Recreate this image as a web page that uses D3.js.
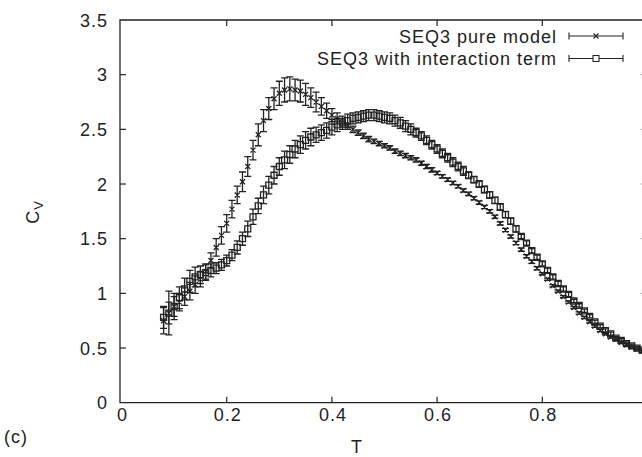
<!DOCTYPE html>
<html><head><meta charset="utf-8">
<script src="https://d3js.org/d3.v7.min.js"></script>
<style>
html,body{margin:0;padding:0;background:#fff;}
svg{display:block;font-family:"Liberation Sans",Arial,Helvetica,sans-serif;}
</style></head>
<body>
<script>
// ---- data ----
const T = [0.08,0.09,0.10,0.11,0.12,0.13,0.14,0.15,0.16,0.17,0.18,0.19,0.20,0.21,0.22,0.23,0.24,0.25,0.26,0.27,0.28,0.29,0.30,0.31,0.32,0.33,0.34,0.35,0.36,0.37,0.38,0.39,0.40,0.41,0.42,0.43,0.44,0.45,0.46,0.47,0.48,0.49,0.50,0.51,0.52,0.53,0.54,0.55,0.56,0.57,0.58,0.59,0.60,0.61,0.62,0.63,0.64,0.65,0.66,0.67,0.68,0.69,0.70,0.71,0.72,0.73,0.74,0.75,0.76,0.77,0.78,0.79,0.80,0.81,0.82,0.83,0.84,0.85,0.86,0.87,0.88,0.89,0.90,0.91,0.92,0.93,0.94,0.95,0.96,0.97,0.98,0.99,1.00];

const pureCv = [0.75,0.82,0.88,0.92,0.97,1.02,1.08,1.13,1.20,1.30,1.42,1.53,1.64,1.77,1.90,2.02,2.16,2.31,2.45,2.58,2.69,2.78,2.83,2.86,2.87,2.86,2.85,2.82,2.79,2.75,2.71,2.67,2.63,2.60,2.56,2.53,2.50,2.47,2.44,2.41,2.39,2.37,2.35,2.33,2.30,2.28,2.26,2.24,2.22,2.19,2.16,2.13,2.10,2.07,2.04,2.01,1.98,1.94,1.91,1.87,1.83,1.79,1.75,1.70,1.64,1.58,1.52,1.46,1.40,1.34,1.29,1.23,1.18,1.13,1.07,1.02,0.97,0.92,0.87,0.82,0.78,0.74,0.70,0.66,0.63,0.60,0.58,0.55,0.53,0.51,0.49,0.47,0.46];
const pureErr = [0.12,0.10,0.09,0.08,0.08,0.08,0.08,0.07,0.07,0.07,0.08,0.08,0.08,0.08,0.08,0.09,0.09,0.09,0.10,0.10,0.10,0.10,0.11,0.11,0.11,0.10,0.10,0.10,0.09,0.09,0.08,0.07,0.06,0.05,0.04,0.03,0.03,0.025,0.025,0.025,0.02,0.02,0.02,0.02,0.02,0.02,0.02,0.02,0.02,0.02,0.02,0.02,0.015,0.015,0.015,0.015,0.015,0.015,0.015,0.015,0.015,0.015,0.015,0.015,0.015,0.015,0.015,0.015,0.015,0.015,0.015,0.015,0.01,0.01,0.01,0.01,0.01,0.01,0.01,0.01,0.01,0.01,0.01,0.01,0.01,0.01,0.01,0.01,0.01,0.01,0.01,0.01,0.01];

const interCv = [0.78,0.82,0.88,0.96,1.04,1.11,1.15,1.17,1.19,1.21,1.23,1.26,1.30,1.35,1.42,1.50,1.59,1.70,1.80,1.90,1.99,2.08,2.16,2.22,2.27,2.32,2.36,2.40,2.43,2.45,2.47,2.49,2.52,2.54,2.56,2.58,2.60,2.61,2.62,2.63,2.63,2.62,2.61,2.60,2.58,2.56,2.53,2.50,2.47,2.44,2.40,2.36,2.32,2.28,2.24,2.20,2.16,2.12,2.08,2.04,2.00,1.95,1.90,1.85,1.79,1.72,1.66,1.59,1.52,1.46,1.39,1.33,1.27,1.21,1.15,1.09,1.04,0.99,0.93,0.89,0.84,0.79,0.74,0.70,0.66,0.63,0.59,0.57,0.54,0.52,0.50,0.48,0.46];
const interErr = [0.10,0.20,0.12,0.10,0.10,0.10,0.09,0.08,0.07,0.06,0.05,0.05,0.05,0.05,0.06,0.06,0.07,0.07,0.07,0.08,0.08,0.08,0.08,0.08,0.08,0.08,0.08,0.08,0.08,0.07,0.07,0.07,0.07,0.06,0.06,0.06,0.05,0.05,0.05,0.05,0.05,0.05,0.05,0.05,0.05,0.05,0.05,0.05,0.04,0.04,0.04,0.04,0.04,0.04,0.04,0.04,0.04,0.04,0.03,0.03,0.03,0.03,0.03,0.03,0.03,0.03,0.03,0.03,0.02,0.02,0.02,0.02,0.02,0.02,0.02,0.02,0.02,0.02,0.015,0.015,0.015,0.015,0.015,0.015,0.015,0.015,0.015,0.015,0.015,0.015,0.015,0.015,0.015];

const xTicks = [0,0.2,0.4,0.6,0.8];
const yTicks = [0,0.5,1,1.5,2,2.5,3,3.5];
const legendLabels = ["SEQ3 pure model","SEQ3 with interaction term"];

// ---- layout ----
const W = 642, H = 457;
const ink = "#222";
const svg = d3.select("body").append("svg").attr("width", W).attr("height", H);
const x = d3.scaleLinear().domain([0,1]).range([121.5,647.5]);
const y = d3.scaleLinear().domain([0,3.5]).range([402.7,20]);
const fontSize = 18;

const plot = svg.append("g");

// frame
const x0 = x(0), x1 = x(1), y0 = y(0), y1 = y(3.5);
plot.append("path")
  .attr("d", `M${x1},${y1}H${x0 - 1.5}V${y0}H${x1}V${y1}`)
  .attr("fill","none").attr("stroke",ink).attr("stroke-width",1.3);

// ticks (inward, on all four sides)
const tl = 6;
xTicks.forEach(t => {
  if (t === 0) return;
  plot.append("line").attr("x1",x(t)).attr("x2",x(t)).attr("y1",y0).attr("y2",y0-tl).attr("stroke",ink).attr("stroke-width",1.2);
  plot.append("line").attr("x1",x(t)).attr("x2",x(t)).attr("y1",y1).attr("y2",y1+tl).attr("stroke",ink).attr("stroke-width",1.2);
});
yTicks.forEach(t => {
  if (t === 0 || t === 3.5) return;
  plot.append("line").attr("x1",x0-1.5).attr("x2",x0-1.5+tl).attr("y1",y(t)).attr("y2",y(t)).attr("stroke",ink).attr("stroke-width",1.2);
  plot.append("line").attr("x1",x1).attr("x2",x1-tl).attr("y1",y(t)).attr("y2",y(t)).attr("stroke",ink).attr("stroke-width",1.2);
});

// tick labels
const txt = (sel) => sel.attr("font-size",fontSize).attr("fill",ink).attr("letter-spacing","1px");
xTicks.forEach(t => {
  plot.append("text").call(txt).attr("x", x(t)+1).attr("y", 421)
    .attr("text-anchor","middle").text(d3.format("~g")(t));
});
yTicks.forEach(t => {
  plot.append("text").call(txt).attr("x", 108).attr("y", y(t)+6.5)
    .attr("text-anchor","end").text(d3.format("~g")(t));
});

// axis titles
plot.append("text").call(txt).attr("x", 357).attr("y", 453).attr("text-anchor","middle").text("T");
const yl = plot.append("text").call(txt).attr("transform","translate(39,212) rotate(-90)").attr("text-anchor","middle");
yl.append("tspan").text("C");
yl.append("tspan").attr("font-size",13).attr("dy",4).text("V");
plot.append("text").call(txt).attr("x", 4).attr("y", 443).text("(c)");

// ---- data marks ----
const cap = 3.5;
const sw = 1.3;
function errorBars(g, vals, errs) {
  const d = T.map((t,i) => ({t, v: vals[i], e: errs[i]}));
  const p = d.map(o => {
    const xx = x(o.t), ya = y(o.v - o.e), yb = y(o.v + o.e);
    return `M${xx},${ya}V${yb}M${xx-cap},${ya}H${xx+cap}M${xx-cap},${yb}H${xx+cap}`;
  }).join("");
  g.append("path").attr("d", p).attr("fill","none").attr("stroke",ink).attr("stroke-width",sw);
  return d;
}
const crossPath = (cx, cy, s) => `M${cx-s},${cy-s}L${cx+s},${cy+s}M${cx-s},${cy+s}L${cx+s},${cy-s}`;
const squarePath = (cx, cy, s) => `M${cx-s},${cy-s}H${cx+s}V${cy+s}H${cx-s}Z`;

const gPure = plot.append("g");
const dPure = errorBars(gPure, pureCv, pureErr);
gPure.append("path").attr("d", dPure.map(o => crossPath(x(o.t), y(o.v), 2.5)).join(""))
  .attr("fill","none").attr("stroke",ink).attr("stroke-width",sw);

const gInter = plot.append("g");
const dInter = errorBars(gInter, interCv, interErr);
gInter.append("path").attr("d", dInter.map(o => squarePath(x(o.t), y(o.v), 3)).join(""))
  .attr("fill","none").attr("stroke",ink).attr("stroke-width",sw);

// ---- legend ----
const legY = [36, 58.5];
legendLabels.forEach((lab, i) => {
  const ly = legY[i];
  plot.append("text").call(txt).attr("x", 557).attr("y", ly + 6.5).attr("text-anchor","end").text(lab);
  const lx0 = 569, lx1 = 623, mid = (lx0+lx1)/2;
  plot.append("path")
    .attr("d", `M${lx0},${ly}H${lx1}M${lx0},${ly-3.5}V${ly+3.5}M${lx1},${ly-3.5}V${ly+3.5}`)
    .attr("fill","none").attr("stroke",ink).attr("stroke-width",1.1);
  plot.append("path")
    .attr("d", i === 0 ? crossPath(mid, ly, 2.5) : squarePath(mid, ly, 3))
    .attr("fill", i === 0 ? "none" : "#fff").attr("stroke",ink).attr("stroke-width",1.1);
});
</script>
</body></html>
